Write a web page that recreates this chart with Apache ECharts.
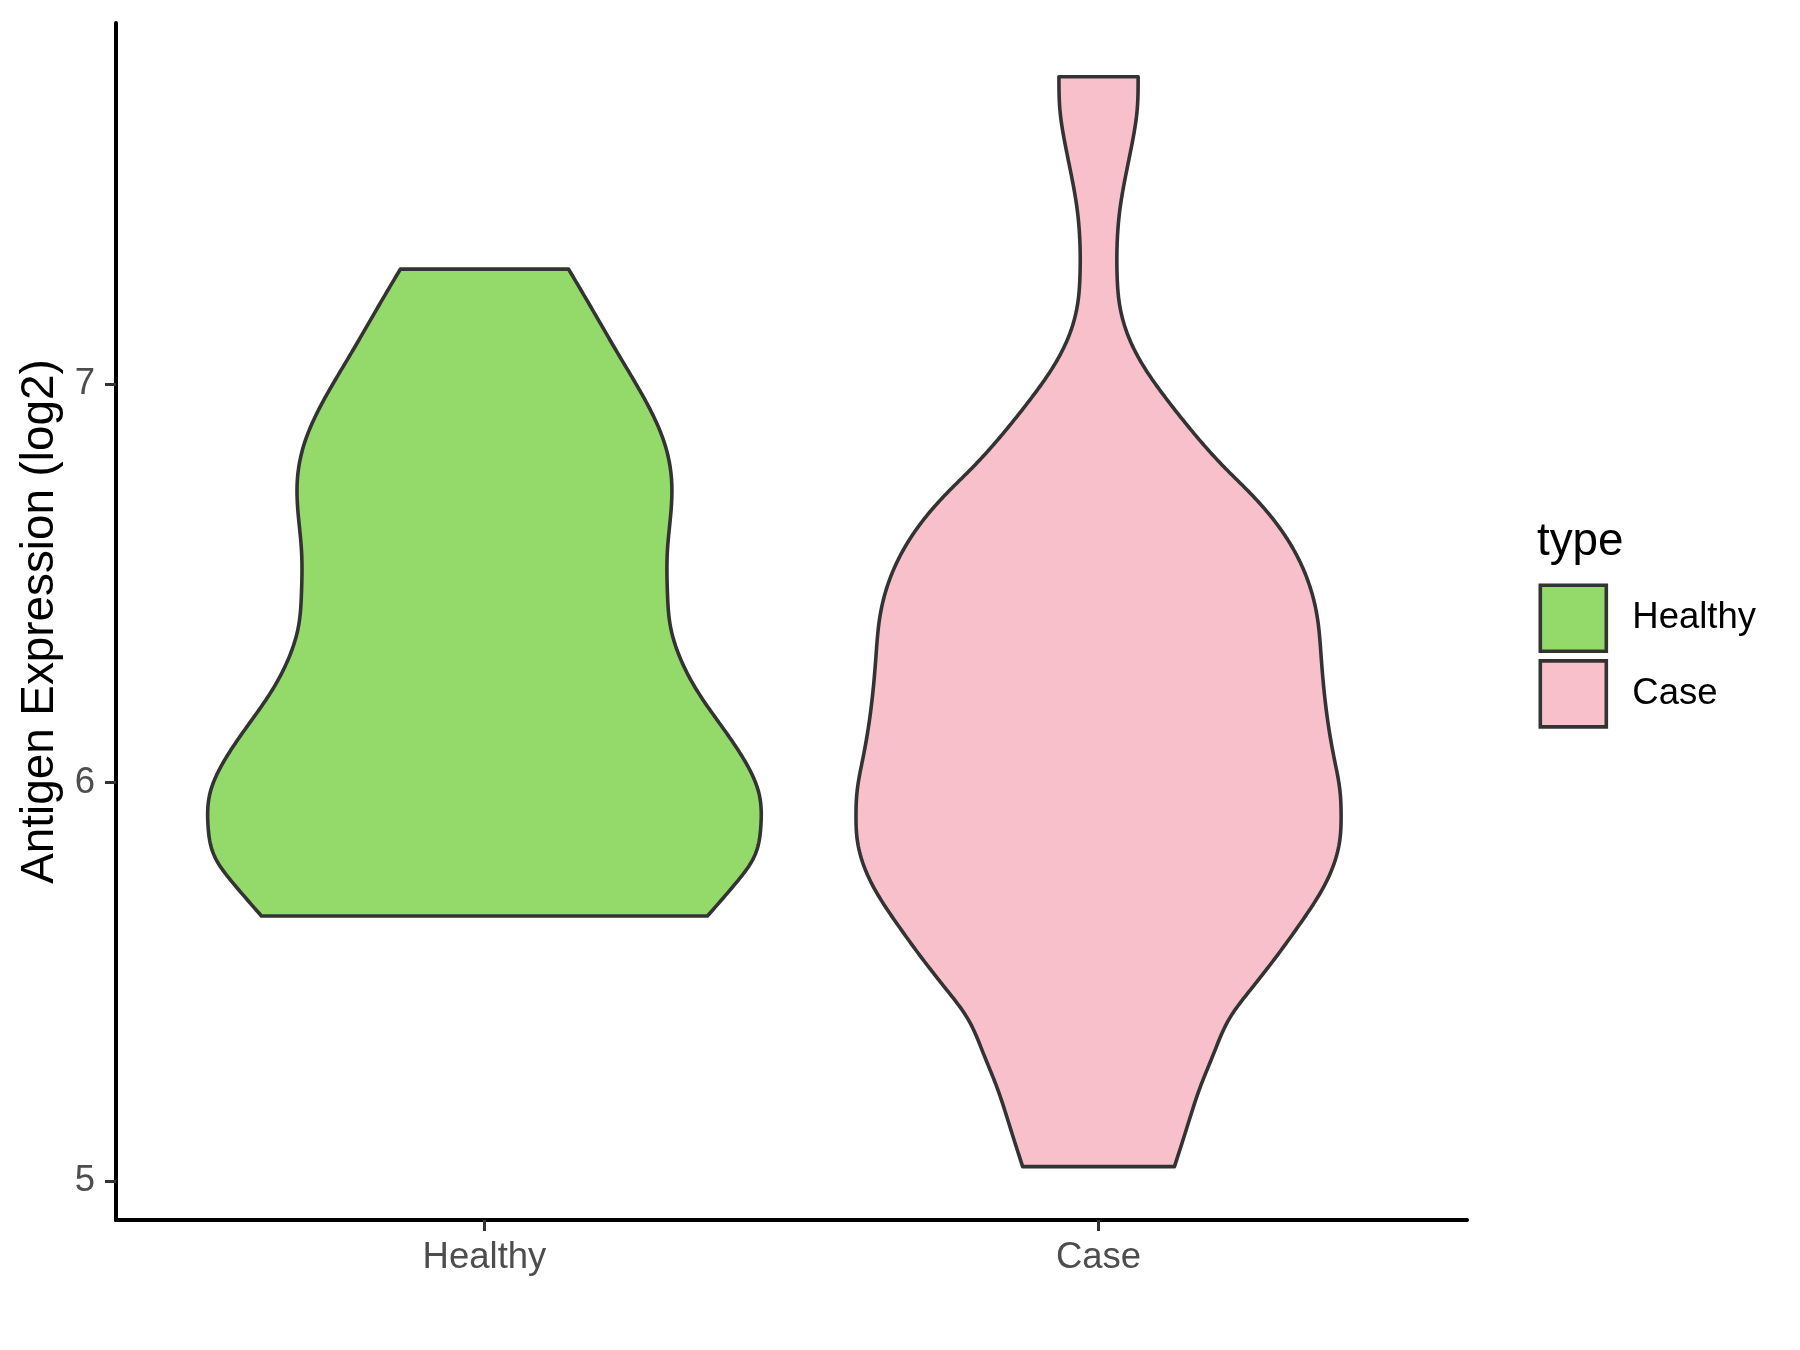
<!DOCTYPE html>
<html><head><meta charset="utf-8">
<script src="https://cdn.jsdelivr.net/npm/echarts@6/dist/echarts.min.js"></script>
<style>html,body{margin:0;padding:0;background:#fff}#chart{width:1800px;height:1350px}</style>
</head><body><div id="chart"></div>
<script>
const categories = ['Healthy', 'Case'];
const categoryPos = [1, 2];
const yTicks = [5, 6, 7];
const healthyY = [7.289, 7.187, 7.086, 7.003, 6.927, 6.843, 6.751, 6.668, 6.584, 6.475, 6.391, 6.308, 6.224, 6.140, 6.057, 5.973, 5.889, 5.810, 5.747, 5.665];
const healthyW = [0.137, 0.176, 0.214, 0.246, 0.273, 0.295, 0.305, 0.303, 0.298, 0.298, 0.303, 0.320, 0.349, 0.387, 0.423, 0.447, 0.450, 0.438, 0.409, 0.363];
const caseY = [7.772, 7.689, 7.605, 7.521, 7.438, 7.354, 7.270, 7.212, 7.128, 7.044, 6.961, 6.877, 6.793, 6.726, 6.659, 6.584, 6.500, 6.417, 6.316, 6.166, 6.065, 5.982, 5.915, 5.856, 5.739, 5.647, 5.555, 5.480, 5.412, 5.321, 5.237, 5.136, 5.036];
const caseW = [0.0645, 0.0629, 0.0547, 0.0438, 0.0347, 0.0303, 0.0303, 0.0331, 0.0466, 0.0738, 0.1117, 0.1552, 0.2040, 0.2474, 0.2855, 0.3180, 0.3425, 0.3560, 0.3625, 0.3722, 0.3832, 0.3929, 0.3950, 0.3929, 0.3669, 0.3288, 0.2855, 0.2474, 0.2148, 0.1878, 0.1659, 0.1443, 0.1236];
const fills = ['#93DA6A', '#F8C0CB'];
const profiles = [{y: healthyY, w: healthyW}, {y: caseY, w: caseW}];
const FONT = '"Liberation Sans", Arial, sans-serif';

// smooth outline drawing: natural cubic spline of pixel x as a function of pixel y
function smoothSide(pts, n) {
  const N = pts.length;
  const x = pts.map(p => p[0]), y = pts.map(p => p[1]);
  const h = [];
  for (let i = 0; i < N - 1; i++) h[i] = y[i + 1] - y[i];
  const b = [], c = [], d = [], M = new Array(N).fill(0);
  for (let i = 1; i < N - 1; i++) {
    b[i] = 2 * (h[i - 1] + h[i]);
    c[i] = h[i];
    d[i] = 6 * ((x[i + 1] - x[i]) / h[i] - (x[i] - x[i - 1]) / h[i - 1]);
  }
  for (let i = 2; i < N - 1; i++) {
    const w = h[i - 1] / b[i - 1];
    b[i] -= w * c[i - 1];
    d[i] -= w * d[i - 1];
  }
  if (N > 2) {
    M[N - 2] = d[N - 2] / b[N - 2];
    for (let i = N - 3; i >= 1; i--) M[i] = (d[i] - c[i] * M[i + 1]) / b[i];
  }
  const out = [];
  for (let i = 0; i < N - 1; i++) {
    for (let k = 0; k < n; k++) {
      const t = k / n, A = 1 - t, B = t;
      const yy = y[i] + t * h[i];
      const xx = A * x[i] + B * x[i + 1] + ((A * A * A - A) * M[i] + (B * B * B - B) * M[i + 1]) * h[i] * h[i] / 6;
      out.push([xx, yy]);
    }
  }
  out.push(pts[N - 1]);
  return out;
}

function renderViolin(params, api) {
  const k = params.seriesIndex;
  const pos = api.value(0);
  const p = profiles[k];
  const left = p.y.map((y, i) => api.coord([pos - p.w[i], y]));
  const right = p.y.map((y, i) => api.coord([pos + p.w[i], y]));
  const pts = smoothSide(left, 16).concat(smoothSide(right, 16).reverse());
  return {
    type: 'polygon',
    shape: {points: pts},
    style: {fill: fills[k], stroke: '#333333', lineWidth: 3.6, lineJoin: 'round'}
  };
}

const chart = echarts.init(document.getElementById('chart'), null, {renderer: 'canvas'});
chart.setOption({
  backgroundColor: '#ffffff',
  animation: false,
  grid: {left: 116, right: 333, top: 23, bottom: 130, containLabel: false, outerBoundsMode: 'none'},
  xAxis: {
    type: 'value', min: 0.4, max: 2.6,
    splitLine: {show: false},
    axisLine: {show: true, onZero: false, lineStyle: {color: '#000000', width: 4}},
    axisTick: {show: true, customValues: categoryPos, length: 11, lineStyle: {color: '#333333', width: 3}},
    axisLabel: {show: true, customValues: categoryPos, margin: 19.5, color: '#4D4D4D', fontSize: 36.5, fontFamily: FONT,
      formatter: v => categories[categoryPos.indexOf(Math.round(v))] || ''}
  },
  yAxis: {
    type: 'value', min: 4.902, max: 7.907,
    splitLine: {show: false},
    axisLine: {show: true, onZero: false, lineStyle: {color: '#000000', width: 4}},
    axisTick: {show: true, customValues: yTicks, length: 11, lineStyle: {color: '#333333', width: 3}},
    axisLabel: {show: true, customValues: yTicks, margin: 21, color: '#4D4D4D', fontSize: 36.5, fontFamily: FONT},
    name: 'Antigen Expression (log2)', nameLocation: 'middle', nameGap: 53,
    nameTextStyle: {color: '#000000', fontSize: 45.8, fontFamily: FONT}
  },
  legend: {
    orient: 'vertical', left: 1538.5, top: 583.5, padding: 0,
    itemWidth: 66, itemHeight: 66, itemGap: 6, icon: 'rect',
    data: categories, selectedMode: false,
    itemStyle: {borderColor: '#333333', borderWidth: 3.6},
    textStyle: {color: '#000000', fontSize: 36.5, fontFamily: FONT, padding: [0, 0, 0, 21]}
  },
  graphic: [{
    type: 'text', x: 1537, y: 542,
    style: {text: 'type', fill: '#000000', fontSize: 45.8, fontFamily: FONT, verticalAlign: 'middle'}
  }],
  series: categories.map((c, k) => ({
    type: 'custom', name: c, renderItem: renderViolin,
    data: [[categoryPos[k], 6]],
    itemStyle: {color: fills[k], borderColor: '#333333', borderWidth: 3.6},
    clip: false, silent: true
  }))
});
</script>
</body></html>
